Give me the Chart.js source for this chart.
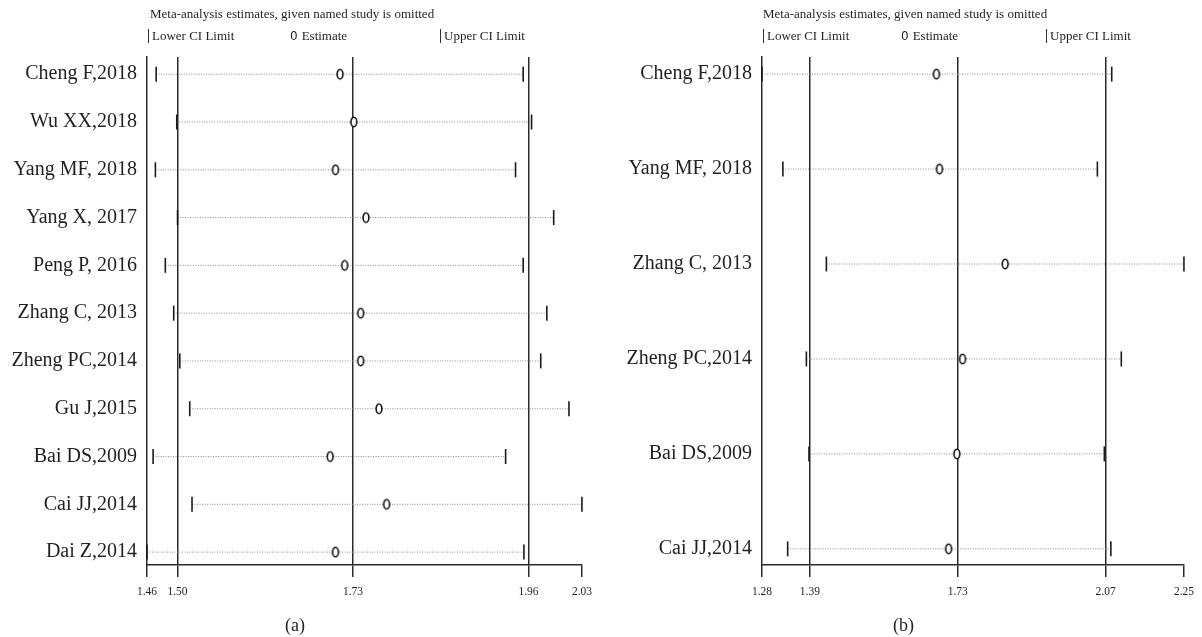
<!DOCTYPE html>
<html>
<head>
<meta charset="utf-8">
<script src="https://cdn.jsdelivr.net/npm/chart.js@4.4.1/dist/chart.umd.min.js"></script>
<style>
  html, body { margin: 0; padding: 0; background: #fff; }
  #wrap { position: relative; width: 1202px; height: 637px; overflow: hidden; background: #fff; }
  canvas { position: absolute; top: 0; }
  .t { position: absolute; font-family: "Liberation Serif", "DejaVu Serif", serif; color: #231f20; white-space: nowrap; }
  .hdr { font-size: 13px; line-height: 15px; }
  .bar { display: inline-block; width: 0; height: 14px; border-left: 1.4px solid #333; vertical-align: -3px; margin-right: 3px; }
  .zero { font-family: "DejaVu Sans", sans-serif; font-size: 12px; margin-right: 4px; }
  .cap { font-size: 18px; line-height: 20px; }
</style>
</head>
<body>
<div id="wrap">
  <canvas id="ca" width="600" height="637" style="left:0px"></canvas>
  <canvas id="cb" width="602" height="637" style="left:600px"></canvas>

  <div class="t hdr" style="left:150px; top:6px;">Meta-analysis estimates, given named study is omitted</div>
  <div class="t hdr" style="left:148px; top:28px;"><span class="bar"></span>Lower CI Limit</div>
  <div class="t hdr" style="left:290px; top:28px;"><span class="zero">0</span>Estimate</div>
  <div class="t hdr" style="left:440px; top:28px;"><span class="bar"></span>Upper CI Limit</div>
  <div class="t cap" style="left:285px; top:615px;">(a)</div>

  <div class="t hdr" style="left:763px; top:6px;">Meta-analysis estimates, given named study is omitted</div>
  <div class="t hdr" style="left:763px; top:28px;"><span class="bar"></span>Lower CI Limit</div>
  <div class="t hdr" style="left:901px; top:28px;"><span class="zero">0</span>Estimate</div>
  <div class="t hdr" style="left:1046px; top:28px;"><span class="bar"></span>Upper CI Limit</div>
  <div class="t cap" style="left:893px; top:615px;">(b)</div>
</div>
<script>
// ---- Panel (a) data ----
const studiesA = ["Cheng F,2018", "Wu XX,2018", "Yang MF, 2018", "Yang X, 2017", "Peng P, 2016",
  "Zhang C, 2013", "Zheng PC,2014", "Gu J,2015", "Bai DS,2009", "Cai JJ,2014", "Dai Z,2014"];
const lowerA = [1.472, 1.499, 1.471, 1.500, 1.484, 1.495, 1.503, 1.516, 1.468, 1.519, 1.460];
const estA   = [1.713, 1.731, 1.707, 1.747, 1.719, 1.740, 1.740, 1.764, 1.700, 1.774, 1.707];
const upperA = [1.953, 1.964, 1.943, 1.993, 1.953, 1.984, 1.976, 2.013, 1.930, 2.030, 1.954];
const xTicksA = [1.46, 1.50, 1.73, 1.96, 2.03];
const refLinesA = [1.50, 1.73, 1.96];

// ---- Panel (b) data ----
const studiesB = ["Cheng F,2018", "Yang MF, 2018", "Zhang C, 2013", "Zheng PC,2014", "Bai DS,2009", "Cai JJ,2014"];
const lowerB = [1.280, 1.328, 1.428, 1.382, 1.388, 1.339];
const estB   = [1.681, 1.688, 1.839, 1.741, 1.728, 1.709];
const upperB = [2.084, 2.051, 2.250, 2.106, 2.067, 2.082];
const xTicksB = [1.28, 1.39, 1.73, 2.07, 2.25];
const refLinesB = [1.39, 1.73, 2.07];

// ellipse "0" marker image
function makeEstimateMarker() {
  const c = document.createElement('canvas');
  c.width = 10; c.height = 14;
  const g = c.getContext('2d');
  g.fillStyle = '#fff';
  g.strokeStyle = '#111';
  g.lineWidth = 1.6;
  g.beginPath();
  g.ellipse(5, 7, 2.9, 4.8, 0, 0, Math.PI * 2);
  g.fill();
  g.stroke();
  return c;
}
const estMarker = makeEstimateMarker();

const SERIF = "'Liberation Serif', 'DejaVu Serif', serif";

function buildChart(canvasId, studies, lower, est, upper, xTicks, refLines, opts) {
  const rows = studies.map((_, i) => i);
  const datasets = [];
  datasets.push({
    data: rows.map(i => ({ x: est[i], y: i })),
    pointStyle: estMarker, pointRadius: 5, showLine: false, clip: false
  });
  datasets.push({
    data: rows.map(i => ({ x: lower[i], y: i })),
    pointStyle: 'line', rotation: 90, pointRadius: 7.5, pointBorderWidth: 1.6,
    pointBorderColor: '#1a1a1a', showLine: false, clip: false
  });
  datasets.push({
    data: rows.map(i => ({ x: upper[i], y: i })),
    pointStyle: 'line', rotation: 90, pointRadius: 7.5, pointBorderWidth: 1.6,
    pointBorderColor: '#1a1a1a', showLine: false, clip: false
  });
  rows.forEach(i => {
    datasets.push({
      data: [{ x: lower[i], y: i }, { x: upper[i], y: i }],
      showLine: true, pointRadius: 0, borderColor: '#8a8a8a', borderWidth: 1,
      borderDash: [1, 1.5], clip: false
    });
  });

  return new Chart(document.getElementById(canvasId), {
    type: 'scatter',
    data: { datasets },
    options: {
      responsive: false,
      animation: false,
      events: [],
      devicePixelRatio: 1,
      layout: { padding: { top: 57, right: opts.padRight, left: 0, bottom: 0 } },
      plugins: { legend: { display: false }, tooltip: { enabled: false } },
      scales: {
        x: {
          type: 'linear',
          min: xTicks[0], max: xTicks[xTicks.length - 1],
          afterBuildTicks: s => { s.ticks = xTicks.map(v => ({ value: v })); },
          afterFit: s => { s.height = 72; },
          grid: {
            display: true, drawTicks: true, tickLength: 12, lineWidth: 1.5, tickWidth: 1.5,
            color: ctx => (ctx.tick && refLines.includes(ctx.tick.value)) ? '#2a2a2a' : 'rgba(0,0,0,0)',
            tickColor: '#2a2a2a'
          },
          border: { display: true, color: '#2a2a2a', width: 1.5 },
          ticks: {
            padding: 8, color: '#231f20', maxRotation: 0, autoSkip: false,
            font: { family: SERIF, size: 11.5 },
            callback: v => Number(v).toFixed(2)
          }
        },
        y: {
          type: 'linear',
          reverse: true,
          min: opts.yMin, max: opts.yMax,
          afterBuildTicks: s => { s.ticks = rows.map(v => ({ value: v })); },
          afterFit: s => { s.width = opts.yWidth; },
          grid: { display: false, drawTicks: false },
          border: { display: true, color: '#2a2a2a', width: 1.5 },
          ticks: {
            padding: 10, color: '#231f20', autoSkip: false,
            font: { family: SERIF, size: 20 },
            callback: v => studies[v]
          }
        }
      }
    }
  });
}

buildChart('ca', studiesA, lowerA, estA, upperA, xTicksA, refLinesA,
  { padRight: 18, yWidth: 147, yMin: -0.36, yMax: 10.27 });
buildChart('cb', studiesB, lowerB, estB, upperB, xTicksB, refLinesB,
  { padRight: 17, yWidth: 162, yMin: -0.18, yMax: 5.17 });
</script>
</body>
</html>
